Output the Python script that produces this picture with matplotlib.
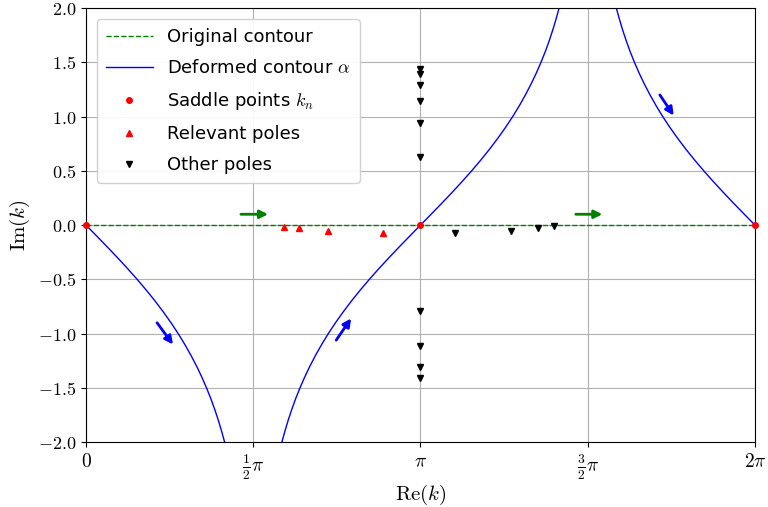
import numpy as np
import matplotlib.pyplot as plt

plt.rcParams['mathtext.fontset'] = 'cm'
plt.rcParams['font.family'] = ['DejaVu Sans']

# steepest descent branch: depth |Im k| and horizontal offset from saddle
depth = [0.0, 0.1, 0.2, 0.3, 0.4, 0.5, 0.6, 0.7, 0.8, 0.9, 1.0, 1.1,
         1.2, 1.3, 1.4, 1.5, 1.6, 1.7, 1.8, 1.9, 2.0, 2.1]
offset = [0.0, 0.0998, 0.1987, 0.2956, 0.3897, 0.4804, 0.5668, 0.6490, 0.7259,
          0.7985, 0.8658, 0.9281, 0.9855, 1.0387, 1.0873, 1.1317, 1.1726,
          1.2094, 1.2432, 1.2737, 1.3018, 1.3271]

saddle_x = [0.0, np.pi, 2 * np.pi]
saddle_y = [0.0, 0.0, 0.0]

relevant_x = [1.86, 2.00, 2.27, 2.79]
relevant_y = [-0.02, -0.03, -0.055, -0.075]

other_x = [np.pi] * 10 + [3.47, 3.99, 4.25, 4.40]
other_y = [1.44, 1.39, 1.29, 1.14, 0.94, 0.63, -0.79, -1.11, -1.31, -1.41,
           -0.07, -0.05, -0.03, -0.01]

# arrows: (x0, y0, x1, y1)
green_arrows = [(1.455, 0.10, 1.71, 0.10), (4.60, 0.10, 4.85, 0.10)]
blue_arrows = [(0.667, -0.90, 0.817, -1.10), (2.35, -1.06, 2.49, -0.86),
               (5.39, 1.20, 5.52, 1.01)]

d = np.array(depth)
o = np.array(offset)

fig, ax = plt.subplots(figsize=(7.68, 5.07), dpi=100)
fig.subplots_adjust(left=0.112, right=0.983, top=0.984, bottom=0.128)

ax.plot([0, 2 * np.pi], [0, 0], '--', color='green', lw=1, label='Original contour')
ax.plot(o, -d, color='blue', lw=1, label=r'Deformed contour $\alpha$')
ax.plot(np.pi - o, -d, color='blue', lw=1)
ax.plot(np.pi + o, d, color='blue', lw=1)
ax.plot(2 * np.pi - o, d, color='blue', lw=1)

ax.plot(saddle_x, saddle_y, 'o', color='red', ms=4, ls='none', clip_on=False,
        zorder=5, label=r'Saddle points $k_n$')
ax.plot(relevant_x, relevant_y, '^', color='red', ms=5, ls='none', label='Relevant poles')
ax.plot(other_x, other_y, 'v', color='black', ms=5, ls='none', label='Other poles')

for x0, y0, x1, y1 in green_arrows:
    ax.annotate('', xy=(x1, y1), xytext=(x0, y0),
                arrowprops=dict(arrowstyle='-|>', color='green', lw=2,
                                mutation_scale=12, shrinkA=0, shrinkB=0))
for x0, y0, x1, y1 in blue_arrows:
    ax.annotate('', xy=(x1, y1), xytext=(x0, y0),
                arrowprops=dict(arrowstyle='-|>', color='blue', lw=2,
                                mutation_scale=12, shrinkA=0, shrinkB=0))

ax.set_xlim(0, 2 * np.pi)
ax.set_ylim(-2, 2)
ax.set_xticks([0, np.pi / 2, np.pi, 3 * np.pi / 2, 2 * np.pi])
ax.set_xticklabels([r'$0$', r'$\frac{1}{2}\pi$', r'$\pi$', r'$\frac{3}{2}\pi$', r'$2\pi$'],
                   fontsize=14)
yt = np.arange(-2.0, 2.01, 0.5)
ax.set_yticks(yt)
ax.set_yticklabels([r'$%.1f$' % v for v in yt], fontsize=13)
ax.set_xlabel(r'$\mathrm{Re}(k)$', fontsize=15, labelpad=1)
ax.set_ylabel(r'$\mathrm{Im}(k)$', fontsize=15)
ax.grid(True, color='#b0b0b0', lw=0.8)

ax.legend(loc='upper left', fontsize=13, handlelength=2.6, framealpha=0.9,
          labelspacing=0.72, borderpad=0.5, bbox_to_anchor=(0.0, 1.0), borderaxespad=0.6)

plt.savefig('out.png', dpi=100)
